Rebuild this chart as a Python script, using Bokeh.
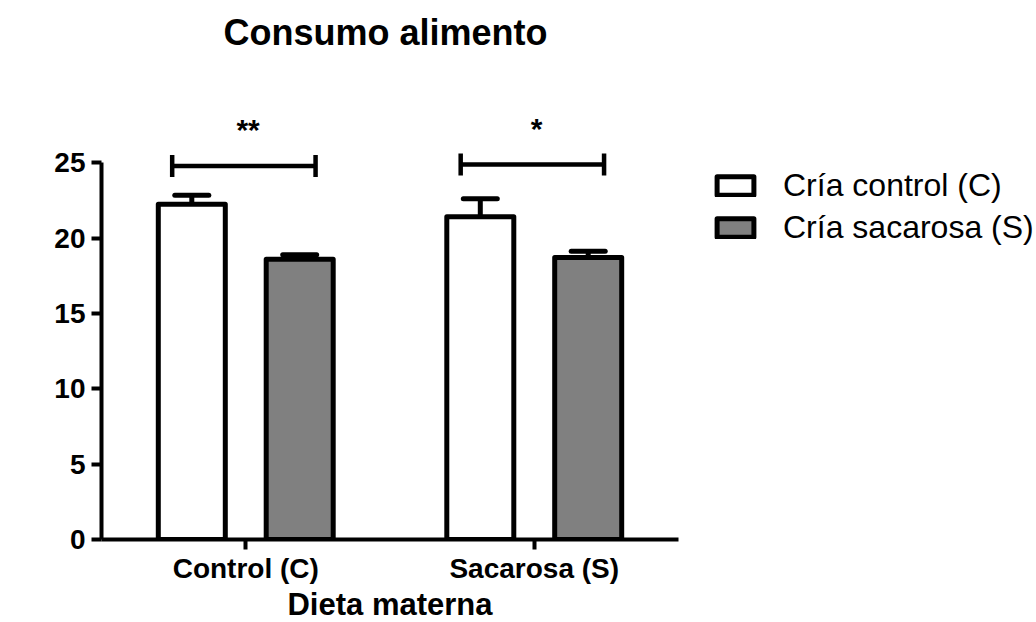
import math
import numpy as np
from bokeh.plotting import figure
from bokeh.models import Range1d, FixedTicker, Legend, LegendItem, Label, ColumnDataSource
from bokeh.core.properties import value
from bokeh.embed import file_html
from bokeh.resources import INLINE

# ---- data ----
groups = ["Control (C)", "Sacarosa (S)"]
series_names = ["Cría control (C)", "Cría sacarosa (S)"]
control_mean = [22.25, 21.43]
control_sem = [0.6, 1.2]
sucrose_mean = [18.6, 18.73]
sucrose_sem = [0.3, 0.4]
sig_labels = ["**", "*"]
bracket_y = [24.8, 24.9]
y_ticks = [0, 5, 10, 15, 20, 25]

# ---- layout constants ----
FONT = "Liberation Sans"
FRAME_W, FRAME_H = 577, 482
X_END, Y_END = 2.0, 32.0
px_x = FRAME_W / X_END
px_y = FRAME_H / Y_END

centers = np.arange(len(groups)) + 0.5
offset = 0.187
bar_w = 67 / px_x
cap_half = 17 / px_x

p = figure(frame_width=FRAME_W, frame_height=FRAME_H,
           x_range=Range1d(0, X_END), y_range=Range1d(0, Y_END),
           output_backend="svg", toolbar_location=None,
           min_border_left=101, min_border_top=57, min_border_bottom=83,
           min_border_right=358)

p.title.text = "Consumo alimento"
p.title.align = "left"
p.title.offset = 122
p.title.text_font = FONT
p.title.text_font_size = "36px"
p.title.text_font_style = "bold"
p.title.text_color = "black"
p.title.standoff = 10

p.xgrid.visible = False
p.ygrid.visible = False
p.outline_line_color = None
p.background_fill_color = "white"
p.border_fill_color = "white"

def top_plus(m, s):
    return [a + b for a, b in zip(m, s)]

xc = list(centers - offset)
xs = list(centers + offset)
src_c = ColumnDataSource(dict(x=xc, top=control_mean, err=top_plus(control_mean, control_sem),
                              x0=[x - cap_half for x in xc], x1=[x + cap_half for x in xc]))
src_s = ColumnDataSource(dict(x=xs, top=sucrose_mean, err=top_plus(sucrose_mean, sucrose_sem),
                              x0=[x - cap_half for x in xs], x1=[x + cap_half for x in xs]))

for src in (src_c, src_s):
    p.segment(x0="x", y0="top", x1="x", y1="err", source=src, line_color="black", line_width=5)
    p.segment(x0="x0", y0="err", x1="x1", y1="err", source=src, line_color="black",
              line_width=5, line_cap="round")

white = p.vbar(x="x", top="top", bottom=0, width=bar_w, source=src_c,
               fill_color="white", line_color="black", line_width=5, line_join="round")
grey = p.vbar(x="x", top="top", bottom=0, width=bar_w, source=src_s,
              fill_color="#808080", line_color="black", line_width=5, line_join="round")

# significance brackets
bl = list(centers - 0.255)
br = list(centers + 0.242)
tick_h = 11 / px_y
p.segment(x0=bl, y0=bracket_y, x1=br, y1=bracket_y, line_color="black", line_width=4.5)
p.segment(x0=bl, y0=[b - tick_h for b in bracket_y], x1=bl, y1=[b + tick_h for b in bracket_y],
          line_color="black", line_width=4.5)
p.segment(x0=br, y0=[b - tick_h for b in bracket_y], x1=br, y1=[b + tick_h for b in bracket_y],
          line_color="black", line_width=4.5)
p.text(x=list(centers + 0.008), y=[b + 36 / px_y for b in bracket_y], text=sig_labels,
       text_font=value(FONT), text_font_size="30px", text_font_style="bold",
       text_align="center", text_baseline="alphabetic", text_color="black")

# axes
for ax in (p.xaxis[0], p.yaxis[0]):
    ax.axis_line_width = 4
    ax.axis_line_color = "black"
    ax.major_tick_line_width = 4
    ax.major_tick_line_color = "black"
    ax.major_tick_out = 10
    ax.major_tick_in = 0
    ax.minor_tick_out = 0
    ax.minor_tick_in = 0
    ax.major_label_text_font = FONT
    ax.major_label_text_font_size = "28px"
    ax.major_label_text_font_style = "bold"
    ax.major_label_text_color = "black"

p.xaxis.ticker = FixedTicker(ticks=list(centers))
p.xaxis.major_label_overrides = {float(c): g for c, g in zip(centers, groups)}
p.xaxis.bounds = (0, X_END)
p.xaxis.major_label_standoff = 3
p.xaxis.axis_label = "Dieta materna"
p.xaxis.axis_label_text_font = FONT
p.xaxis.axis_label_text_font_size = "31px"
p.xaxis.axis_label_text_font_style = "bold"
p.xaxis.axis_label_text_color = "black"
p.xaxis.axis_label_standoff = 0

p.yaxis.ticker = FixedTicker(ticks=y_ticks)
p.yaxis.bounds = (0, y_ticks[-1])
p.yaxis.major_label_standoff = 6

ylab = Label(x=-72 / px_x, y=y_ticks[-1] / 2 - 0.35, text="gramos (g)", angle=math.pi / 2,
             text_font=FONT, text_font_size="31px", text_font_style="bold",
             text_align="center", text_baseline="middle", text_color="black")
p.add_layout(ylab)

legend = Legend(items=[LegendItem(label=series_names[0], renderers=[white]),
                       LegendItem(label=series_names[1], renderers=[grey])],
                location=(34, 293), glyph_width=46, glyph_height=23, label_standoff=25,
                label_text_font=FONT, label_text_font_size="32px", label_height=37,
                label_text_color="black", spacing=5, padding=0, margin=0,
                border_line_color=None, background_fill_alpha=0)
p.add_layout(legend, "right")

open("out.html", "w").write(file_html(p, INLINE))
